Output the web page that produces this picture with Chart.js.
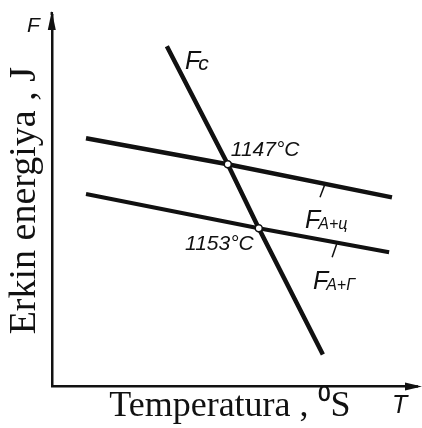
<!DOCTYPE html>
<html lang="en">
<head>
    <meta charset="UTF-8" />
    <title>Erkin energiya</title>
    <script src="https://cdn.jsdelivr.net/npm/chart.js"></script>
    <style>
        html, body { margin: 0; padding: 0; background: #fff; }
        #wrap { width: 422px; height: 428px; }
    </style>
</head>
<body>
    <div id="wrap"><canvas id="chart"></canvas></div>
    <script>
        // schematic curves, arbitrary units (0..100 on both axes)
        const fcX = [32.3, 49.4, 58.1, 76.1];
        const fcY = [91.6, 59.8, 42.6, 8.6];
        const upperX = [9.6, 49.4, 95.5];      // F A+ц
        const upperY = [66.8, 59.8, 50.9];
        const lowerX = [9.6, 58.1, 94.7];      // F A+Г
        const lowerY = [51.8, 42.6, 36.1];
        const crossX = [49.4, 58.1];
        const crossY = [59.8, 42.6];
        const crossLabels = ['1147°C', '1153°C'];

        const pts = (xs, ys) => xs.map((x, i) => ({ x: x, y: ys[i] }));

        // little leader strokes from the lines to their names
        const leaderUpper = [{ x: 76.7, y: 54.5 }, { x: 75.3, y: 50.9 }];
        const leaderLower = [{ x: 80.1, y: 38.7 }, { x: 78.7, y: 34.8 }];

        const labelFont = 'italic {s}px "Liberation Sans", Arial, sans-serif';
        const f = s => labelFont.replace('{s}', s);

        const decorations = {
            id: 'decorations',
            afterDraw(chart) {
                const ctx = chart.ctx;
                const a = chart.chartArea;
                const xs = chart.scales.x, ys = chart.scales.y;
                ctx.save();
                ctx.fillStyle = '#111';
                ctx.strokeStyle = '#111';
                ctx.lineWidth = 2.5;

                // axis extensions + arrows
                ctx.beginPath();
                ctx.moveTo(a.right, a.bottom);
                ctx.lineTo(418, a.bottom);
                ctx.stroke();
                ctx.beginPath();
                ctx.moveTo(422, a.bottom);
                ctx.lineTo(405, a.bottom - 4);
                ctx.lineTo(405, a.bottom + 4);
                ctx.closePath();
                ctx.fill();
                ctx.beginPath();
                ctx.moveTo(a.left, a.top);
                ctx.lineTo(a.left, 12);
                ctx.stroke();
                ctx.beginPath();
                ctx.moveTo(a.left, 11);
                ctx.lineTo(a.left - 4, 30);
                ctx.lineTo(a.left + 4, 30);
                ctx.closePath();
                ctx.fill();

                ctx.textBaseline = 'alphabetic';
                ctx.textAlign = 'left';

                // axis letters
                ctx.font = f(21);
                ctx.fillText('F', 27, 32);
                ctx.font = f(25);
                ctx.fillText('T', 392, 413);

                // crossing temperatures
                ctx.font = f(21);
                ctx.fillText(crossLabels[0], xs.getPixelForValue(crossX[0]) + 3, ys.getPixelForValue(crossY[0]) - 8);
                ctx.textAlign = 'right';
                ctx.fillText(crossLabels[1], xs.getPixelForValue(crossX[1]) - 5, ys.getPixelForValue(crossY[1]) + 22);
                ctx.textAlign = 'left';

                // curve names
                const name = (main, sub, x, y, subSize) => {
                    const px = xs.getPixelForValue(x), py = ys.getPixelForValue(y);
                    ctx.font = f(25);
                    ctx.fillText(main, px, py);
                    const w = ctx.measureText(main).width;
                    ctx.font = f(subSize);
                    ctx.fillText(sub, px + w - 2, py + 1);
                };
                name('F', 'c', 37.4, 85.5, 21);
                name('F', 'A+ц', 71.1, 42.6, 16);
                name('F', 'A+Г', 73.3, 26.1, 16);
                ctx.restore();
            }
        };

        new Chart(document.getElementById('chart'), {
            type: 'scatter',
            data: {
                datasets: [
                    { data: pts(crossX, crossY), pointRadius: 3.5, backgroundColor: '#fff', borderColor: '#111', borderWidth: 1.5, order: 0 },
                    { data: pts(fcX, fcY), showLine: true, pointRadius: 0, borderColor: '#111', borderWidth: 4.5, order: 1 },
                    { data: pts(upperX, upperY), showLine: true, pointRadius: 0, borderColor: '#111', borderWidth: 4.5, order: 1 },
                    { data: pts(lowerX, lowerY), showLine: true, pointRadius: 0, borderColor: '#111', borderWidth: 4, order: 1 },
                    { data: leaderUpper, showLine: true, pointRadius: 0, borderColor: '#111', borderWidth: 1.5, order: 1 },
                    { data: leaderLower, showLine: true, pointRadius: 0, borderColor: '#111', borderWidth: 1.5, order: 1 }
                ]
            },
            options: {
                responsive: true,
                maintainAspectRatio: false,
                animation: false,
                layout: { padding: { left: 4, top: 15, right: 14, bottom: 0 } },
                plugins: { legend: { display: false }, tooltip: { enabled: false } },
                scales: {
                    x: {
                        min: 0, max: 100,
                        grid: { display: false, drawTicks: false },
                        ticks: { display: false },
                        border: { display: true, color: '#111', width: 2.5 },
                        title: {
                            display: true,
                            text: 'Temperatura , ⁰S',
                            color: '#111',
                            font: { family: '"Liberation Serif", "Times New Roman", serif', size: 36, lineHeight: 1.1 },
                            padding: { top: 0, bottom: 2 }
                        }
                    },
                    y: {
                        min: 0, max: 100,
                        grid: { display: false, drawTicks: false },
                        ticks: { display: false },
                        border: { display: true, color: '#111', width: 2.5 },
                        title: {
                            display: true,
                            text: 'Erkin energiya , J',
                            color: '#111',
                            font: { family: '"Liberation Serif", "Times New Roman", serif', size: 38, lineHeight: 1.1 },
                            padding: { top: 0, bottom: 6 }
                        }
                    }
                }
            },
            plugins: [decorations]
        });
    </script>
</body>
</html>
